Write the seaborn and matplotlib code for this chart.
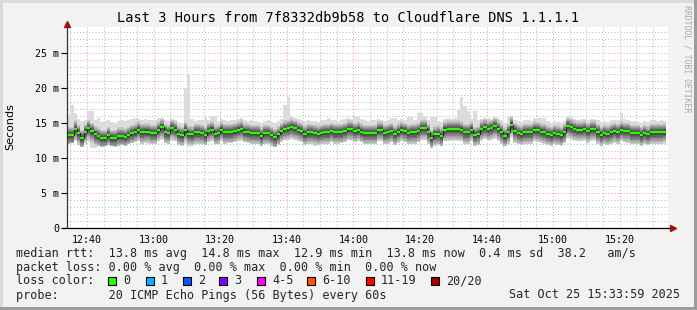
import numpy as np
import pandas as pd
import matplotlib
matplotlib.use("Agg")
import matplotlib.pyplot as plt
import seaborn as sns
from matplotlib.patches import Rectangle

# ---------------- data ----------------
start_minute = 34  # 12:34, minutes after 12:00; one sample per minute
median_ms = [
    13.3, 13.3, 14.2, 13.6, 12.9, 13.8, 14.3, 13.9, 13.4, 13.2,
    12.9, 12.9, 13.3, 12.9, 12.9, 13.2, 13.2, 13.1, 13.3, 13.6,
    13.8, 14.1, 13.7, 13.8, 13.8, 13.6, 13.6, 14.1, 14.4, 13.7,
    13.6, 14.3, 14.1, 13.5, 13.3, 14.0, 13.5, 13.4, 13.7, 13.7,
    13.6, 13.3, 13.9, 14.1, 13.5, 13.6, 14.1, 13.7, 13.7, 13.7,
    13.9, 14.1, 14.2, 13.8, 13.7, 13.6, 13.6, 13.6, 13.2, 13.6,
    13.6, 13.3, 13.0, 13.4, 13.9, 14.2, 14.3, 14.5, 14.3, 14.1,
    13.9, 13.5, 13.7, 13.7, 13.6, 13.5, 13.6, 13.7, 13.7, 13.9,
    13.7, 13.7, 13.7, 13.9, 14.2, 14.2, 13.9, 14.1, 13.8, 13.6,
    13.6, 13.6, 13.6, 14.1, 14.1, 13.6, 13.7, 13.9, 13.5, 13.8,
    14.1, 13.9, 13.6, 13.7, 13.7, 13.9, 14.3, 14.3, 13.7, 12.9,
    13.4, 13.5, 13.2, 14.1, 14.2, 14.2, 14.2, 14.2, 14.1, 13.7,
    13.7, 14.1, 13.3, 13.5, 14.2, 14.4, 14.2, 14.3, 14.6, 14.2,
    13.7, 13.2, 13.7, 14.8, 13.9, 13.6, 13.5, 13.7, 13.7, 13.7,
    14.1, 14.0, 13.8, 13.7, 13.5, 13.3, 13.6, 13.5, 13.3, 13.7,
    14.6, 14.4, 14.2, 14.1, 14.1, 14.2, 13.9, 14.2, 14.2, 13.7,
    13.3, 13.6, 13.5, 13.7, 13.9, 13.7, 14.1, 13.9, 13.9, 13.6,
    13.6, 13.6, 13.3, 13.6, 13.4, 13.7, 13.7, 13.7, 13.7, 13.8,
]
max_ms = [
    16.2, 17.6, 16.4, 15.6, 15.3, 15.4, 16.7, 16.7, 15.5, 15.8,
    15.2, 15.3, 15.4, 15.2, 15.1, 15.3, 15.4, 15.3, 15.5, 15.6,
    15.7, 15.6, 15.5, 15.6, 15.5, 15.4, 15.5, 15.7, 15.7, 15.4,
    15.3, 15.6, 15.5, 15.2, 15.1, 20.0, 22.1, 15.6, 15.3, 15.4,
    15.5, 15.9, 15.4, 16.1, 16.1, 15.3, 15.6, 15.4, 15.3, 15.4,
    15.5, 15.6, 15.8, 15.4, 15.3, 15.4, 15.3, 15.2, 15.1, 15.3,
    15.4, 15.2, 15.0, 15.3, 15.6, 17.6, 18.8, 16.1, 15.8, 15.6,
    15.5, 15.3, 15.4, 15.3, 15.3, 15.2, 15.4, 15.4, 15.8, 15.5,
    15.4, 15.3, 15.5, 15.6, 15.7, 15.6, 16.1, 16.1, 15.6, 15.4,
    15.3, 15.4, 15.5, 15.6, 15.5, 15.3, 15.4, 15.8, 15.8, 15.4,
    15.6, 15.5, 15.9, 15.9, 15.4, 16.4, 16.4, 15.9, 15.4, 15.9,
    15.9, 15.3, 15.2, 15.6, 15.7, 15.6, 15.7, 16.9, 18.7, 17.5,
    16.7, 15.6, 16.7, 15.4, 15.6, 15.8, 15.7, 15.6, 15.9, 15.7,
    15.4, 15.1, 15.9, 16.0, 15.5, 15.3, 15.2, 15.4, 15.4, 15.3,
    15.8, 15.8, 15.8, 15.8, 15.3, 15.1, 15.3, 15.2, 15.1, 15.3,
    15.9, 15.9, 15.6, 15.5, 15.6, 15.6, 15.4, 15.6, 15.6, 15.4,
    15.2, 15.3, 15.2, 15.4, 15.5, 15.4, 16.4, 15.6, 15.5, 15.3,
    15.3, 15.2, 15.1, 15.3, 15.2, 15.4, 15.4, 15.3, 15.4, 15.3,
]
min_ms = [
    12.1, 12.2, 12.4, 11.9, 11.6, 12.0, 12.3, 11.4, 11.4, 11.8,
    11.6, 11.7, 11.9, 11.7, 11.6, 11.8, 11.9, 11.8, 12.0, 12.2,
    12.3, 12.4, 12.1, 12.2, 12.1, 12.0, 12.0, 12.4, 12.6, 12.2,
    12.1, 12.5, 12.4, 11.9, 11.8, 12.1, 11.6, 11.7, 12.0, 12.1,
    12.1, 11.9, 12.3, 12.4, 12.0, 12.1, 12.4, 12.1, 12.2, 12.2,
    12.3, 12.4, 12.5, 12.3, 12.2, 12.1, 12.1, 12.1, 11.8, 12.1,
    12.1, 11.8, 11.6, 11.9, 12.3, 12.6, 12.6, 12.8, 12.6, 12.4,
    12.3, 11.9, 12.1, 12.1, 11.8, 11.9, 12.0, 12.1, 12.1, 12.3,
    12.1, 12.1, 12.2, 12.3, 12.6, 12.5, 12.3, 12.4, 12.3, 12.1,
    12.1, 12.0, 12.1, 12.5, 12.5, 12.0, 12.1, 12.3, 11.9, 12.2,
    12.4, 12.3, 12.0, 12.1, 12.1, 12.3, 12.6, 12.6, 12.1, 11.5,
    11.8, 11.9, 11.7, 12.4, 12.5, 12.5, 12.5, 12.5, 12.4, 12.1,
    12.1, 12.4, 11.7, 11.9, 12.5, 12.7, 12.5, 12.6, 12.8, 12.5,
    12.1, 11.7, 12.1, 12.9, 12.2, 12.0, 11.9, 12.1, 12.1, 12.1,
    12.4, 12.3, 12.2, 12.1, 11.9, 11.8, 12.0, 11.9, 11.8, 12.2,
    12.7, 12.6, 12.5, 12.4, 12.4, 12.5, 12.2, 12.5, 12.5, 12.1,
    11.8, 12.0, 11.9, 12.1, 12.2, 12.1, 12.4, 12.3, 12.2, 12.0,
    12.0, 12.0, 11.8, 12.0, 11.9, 12.1, 12.1, 12.0, 12.1, 12.1,
]
x_tick_minutes = [40, 60, 80, 100, 120, 140, 160, 180, 200]
x_tick_labels = ["12:40", "13:00", "13:20", "13:40", "14:00",
                 "14:20", "14:40", "15:00", "15:20"]
y_tick_values = [0, 5, 10, 15, 20, 25]
y_tick_labels = ["0", "5 m", "10 m", "15 m", "20 m", "25 m"]
loss_labels = ["0", "1", "2", "3", "4-5", "6-10", "11-19", "20/20"]
loss_colors = ["#26ff00", "#00b8ff", "#0059ff", "#7e00ff",
               "#ff00ff", "#ff5500", "#ff0000", "#a10000"]

title = "Last 3 Hours from 7f8332db9b58 to Cloudflare DNS 1.1.1.1"
line_rtt = ("median rtt:  13.8 ms avg  14.8 ms max  12.9 ms min  "
            "13.8 ms now  0.4 ms sd  38.2   am/s")
line_loss = "packet loss: 0.00 % avg  0.00 % max  0.00 % min  0.00 % now"
line_probe = "probe:       20 ICMP Echo Pings (56 Bytes) every 60s"
stamp = "Sat Oct 25 15:33:59 2025"

# ---------------- style ----------------
sns.set_style("white")
plt.rcParams["font.family"] = ["DejaVu Sans Mono"]

W, H = 697, 310
fig = plt.figure(figsize=(W / 100, H / 100), dpi=100, facecolor="#f2f2f2")


def fx(x):
    return x / W


def fy(y):
    return 1 - y / H


ax_l, ax_r, ax_t, ax_b = 67, 668, 27.3, 228.3
ax = fig.add_axes([fx(ax_l), fy(ax_b), fx(ax_r) - fx(ax_l), fy(ax_t) - fy(ax_b)])
ax.set_facecolor("white")

t = start_minute + np.arange(len(median_ms))
df = pd.DataFrame({"t": t, "median": median_ms, "lo": min_ms, "hi": max_ms})
te = np.append(t, t[-1] + 1)


def ext(a):
    a = np.asarray(a, dtype=float)
    return np.append(a, a[-1])


med = df["median"].to_numpy()
lo = df["lo"].to_numpy()
hi = df["hi"].to_numpy()

# smoke: outer envelope then darker inner bands
ax.fill_between(te, ext(lo), ext(hi), step="post", color="#dcdcdc", lw=0, zorder=2)
up_off = [1.2, 1.0, 0.85, 0.7, 0.56, 0.43, 0.31, 0.19]
dn_off = [1.65, 1.4, 1.18, 0.97, 0.78, 0.6, 0.43, 0.27]
band_cols = ["#c8c8c8", "#b3b3b3", "#9e9e9e", "#898989",
             "#757575", "#626262", "#515151", "#424242"]
for u, d, c in zip(up_off, dn_off, band_cols):
    lower = np.maximum(lo, med - d)
    upper = np.minimum(hi, med + u)
    ax.fill_between(te, ext(lower), ext(upper), step="post", color=c, lw=0, zorder=2)

# median line
sns.lineplot(data=df, x="t", y="median", drawstyle="steps-post",
             color="#202020", lw=0.8, ax=ax, zorder=3)
ax.hlines(df["median"], df["t"], df["t"] + 1, color=loss_colors[0], lw=1.6, zorder=4)

ax.set_xlim(34, 214.5)
ax.set_ylim(0, 28.7)
ax.set_xlabel("")
ax.set_ylabel("")

ax.set_xticks(x_tick_minutes)
ax.set_xticklabels(x_tick_labels)
ax.set_xticks(np.arange(35, 215, 5), minor=True)
ax.set_yticks(y_tick_values)
ax.set_yticklabels(y_tick_labels)
ax.set_yticks(np.arange(1, 29, 1), minor=True)

ax.grid(which="major", color="#ff0000", alpha=0.4, ls=(0, (1, 2)), lw=0.75)
ax.grid(which="minor", color="#bcbcbc", ls=(0, (1, 2)), lw=0.75)
ax.set_axisbelow(True)

ax.tick_params(axis="x", which="both", length=0, pad=4.5, labelsize=7.2, colors="#000000")
ax.tick_params(axis="y", which="major", length=4, width=0.8, pad=1.5,
               labelsize=7.2, colors="#000000", left=True)
ax.tick_params(axis="y", which="minor", length=0)

for s in ax.spines.values():
    s.set_visible(False)

# axis lines with arrows
ax.plot([0, 0], [0, 1.012], transform=ax.transAxes, color="#333333", lw=0.9,
        clip_on=False, zorder=6)
ax.plot([-0.008, 1.006], [0, 0], transform=ax.transAxes, color="#000000", lw=0.9,
        clip_on=False, zorder=6)
ax.plot([0], [1.017], marker="^", ms=5, color="#a01010", transform=ax.transAxes,
        clip_on=False, zorder=7)
ax.plot([1.008], [0], marker=">", ms=5, color="#a01010", transform=ax.transAxes,
        clip_on=False, zorder=7)

# titles / side texts
fig.text(fx(348), fy(18), title, ha="center", va="center", fontsize=9.8, color="#000000")
fig.text(fx(10), fy(127), "Seconds", rotation=90, ha="center", va="center",
         fontsize=8, family=["DejaVu Sans"], color="#000000")
fig.text(fx(687), fy(5), "RRDTOOL / TOBI OETIKER", rotation=270, ha="center",
         va="top", fontsize=5.9, color="#a8a8a8")

# legend block
fs = 8.5
fig.text(fx(16), fy(254), line_rtt, ha="left", va="center", fontsize=fs)
fig.text(fx(16), fy(267.5), line_loss, ha="left", va="center", fontsize=fs)
fig.text(fx(16), fy(281), "loss color:", ha="left", va="center", fontsize=fs)
fig.text(fx(16), fy(295), line_probe, ha="left", va="center", fontsize=fs)
fig.text(fx(680), fy(295), stamp, ha="right", va="center", fontsize=fs)

sw_x = [108, 146, 183, 219, 257, 307, 366, 431]
for xs, lab, col in zip(sw_x, loss_labels, loss_colors):
    fig.add_artist(Rectangle((fx(xs), fy(285)), 8 / W, 8 / H, transform=fig.transFigure,
                             facecolor=col, edgecolor="#000000", lw=0.8))
    fig.text(fx(xs + 15), fy(281), lab, ha="left", va="center", fontsize=fs)

# 3D-ish frame
fig.add_artist(Rectangle((0, 1 - 3 / H), 1, 3 / H, transform=fig.transFigure,
                         facecolor="#dadada", edgecolor="none"))
fig.add_artist(Rectangle((0, 0), 3 / W, 1, transform=fig.transFigure,
                         facecolor="#dadada", edgecolor="none"))
fig.add_artist(Rectangle((0, 0), 1, 3 / H, transform=fig.transFigure,
                         facecolor="#9c9c9c", edgecolor="none"))
fig.add_artist(Rectangle((1 - 3 / W, 0), 3 / W, 1, transform=fig.transFigure,
                         facecolor="#9c9c9c", edgecolor="none"))

fig.savefig("out.png", dpi=100, facecolor=fig.get_facecolor())
